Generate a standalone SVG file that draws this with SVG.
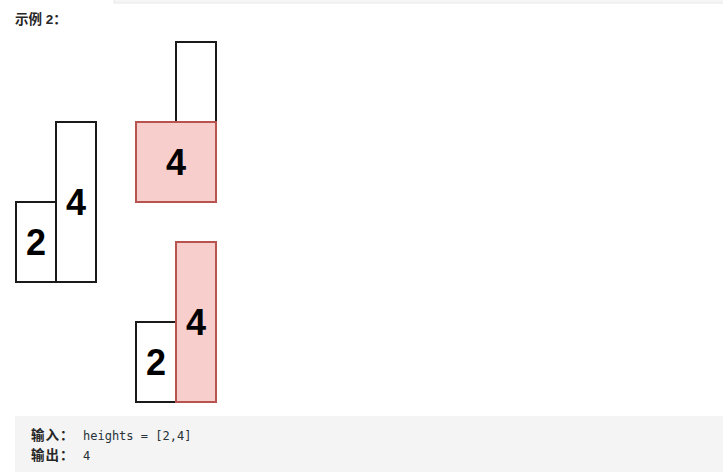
<svg xmlns="http://www.w3.org/2000/svg" width="723" height="472" viewBox="0 0 723 472">
<style>
.w{fill:#ffffff;stroke:#1a1a1a;stroke-width:2}
.p{fill:#f8cecc;stroke:#b85450;stroke-width:2}
.n{font-family:"Liberation Sans",Arial,sans-serif;font-weight:bold;font-size:36px;fill:#000;text-anchor:middle}
.cj{font-family:"Liberation Sans","Noto Sans CJK SC",sans-serif;font-weight:bold;font-size:13.5px;fill:#262626}
.mono{font-family:"DejaVu Sans Mono","Liberation Mono",monospace;font-size:12px;fill:#263238}
</style>
<rect x="114" y="-1" width="610" height="4" fill="#f5f5f5" stroke="#e8e8e8" stroke-width="1"/>
<text class="cj" x="15" y="24">示例 2：</text>
<g id="left">
<g id="l2"><rect class="w" x="16" y="202" width="40" height="80"/><text class="n" x="36" y="255">2</text></g>
<g id="l4"><rect class="w" x="56" y="122" width="40" height="160"/><text class="n" x="76" y="215">4</text></g>
</g>
<g id="top">
<g id="t1"><rect class="w" x="176" y="42" width="40" height="80"/></g>
<g id="t2"><rect class="p" x="136" y="122" width="80" height="80"/><text class="n" x="176" y="175">4</text></g>
</g>
<g id="bottom">
<g id="b2"><rect class="w" x="136" y="322" width="40" height="80"/><text class="n" x="156" y="375">2</text></g>
<g id="b4"><rect class="p" x="176" y="242" width="40" height="160"/><text class="n" x="196" y="335">4</text></g>
</g>
<g id="connectors"></g>
<rect x="15" y="416" width="708" height="56" fill="#f4f4f4"/>
<text class="cj" x="31" y="440" letter-spacing="1">输入：</text>
<text class="mono" x="83" y="440">heights = [2,4]</text>
<text class="cj" x="31" y="460" letter-spacing="1">输出：</text>
<text class="mono" x="83" y="460">4</text>
</svg>
